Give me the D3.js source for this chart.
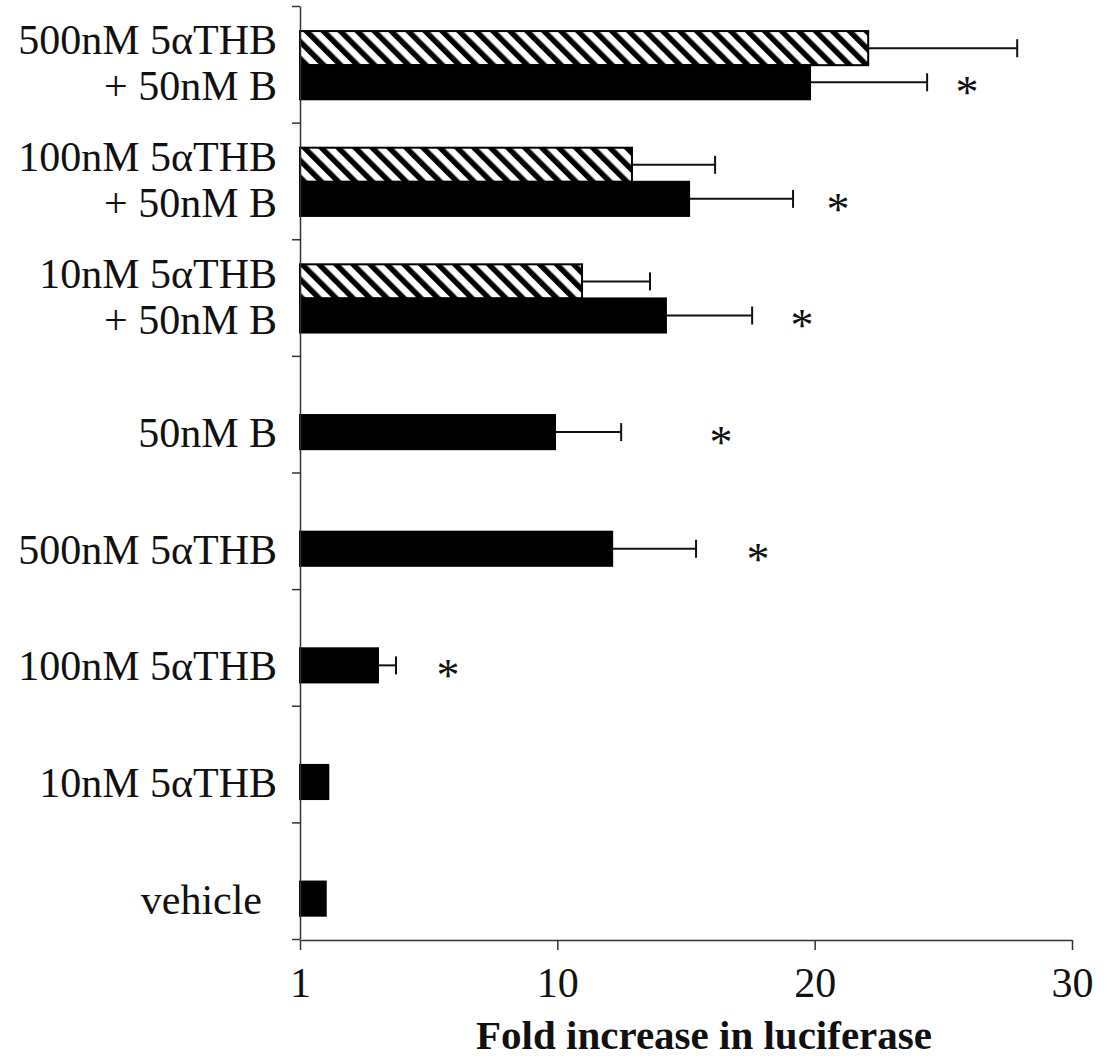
<!DOCTYPE html>
<html>
<head>
<meta charset="utf-8">
<script src="https://cdn.jsdelivr.net/npm/d3@7"></script>
<style>
  html, body { margin: 0; padding: 0; background: #fff; }
  svg { display: block; }
  text { font-family: "Liberation Serif", "Times New Roman", serif; fill: #111; }
</style>
</head>
<body>
<svg id="chart" width="1107" height="1062"></svg>
<script>
// Treatments, top to bottom
const categories = [
  "500nM 5αTHB + 50nM B",
  "100nM 5αTHB + 50nM B",
  "10nM 5αTHB + 50nM B",
  "50nM B",
  "500nM 5αTHB",
  "100nM 5αTHB",
  "10nM 5αTHB",
  "vehicle"
];
const categoryLines = [
  ["500nM 5αTHB", "+ 50nM B"],
  ["100nM 5αTHB", "+ 50nM B"],
  ["10nM 5αTHB", "+ 50nM B"],
  ["50nM B"],
  ["500nM 5αTHB"],
  ["100nM 5αTHB"],
  ["10nM 5αTHB"],
  ["vehicle"]
];

// Fold increase (mean) and error, hatched series
const hatchedValues = [22.08, 12.9, 10.96, null, null, null, null, null];
const hatchedErrors = [5.79, 3.23, 2.64, null, null, null, null, null];
// Fold increase (mean) and error, solid series
const solidValues = [19.82, 15.12, 14.22, 9.91, 12.13, 3.03, 1.1, 1.0];
const solidErrors = [4.55, 4.04, 3.35, 2.57, 3.26, 0.7, null, null];
// Significance marks, placed along the value axis
const sigMarkAt = [25.92, 20.91, 19.51, 16.36, 17.8, 5.75, null, null];

// Value axis ticks
const xTickValues = [0, 10, 20, 30];
const xTickLabels = ["1", "10", "20", "30"];
const xTitle = "Fold increase in luciferase";

const series = ["hatched", "solid"];

const svg = d3.select("#chart");

const x = d3.scaleLinear().domain([0, 30]).range([300, 1072]);
const y = d3.scaleBand().domain(categories).range([6, 939]);
const bw = y.bandwidth();
const ySub = d3.scaleBand().domain(series).range([bw * 0.215, bw * 0.8]);

// Diagonal hatch fill
const defs = svg.append("defs");
const pat = defs.append("pattern")
  .attr("id", "diagHatch")
  .attr("patternUnits", "userSpaceOnUse")
  .attr("width", 12)
  .attr("height", 12)
  .attr("patternTransform", "rotate(-45)");
pat.append("rect").attr("width", 12).attr("height", 12).attr("fill", "#fff");
pat.append("rect").attr("width", 5.5).attr("height", 12).attr("fill", "#000");

// Rows of bar data
const rows = categories.map((c, i) => ({
  cat: c,
  lines: categoryLines[i],
  hatched: hatchedValues[i],
  hatchedErr: hatchedErrors[i],
  solid: solidValues[i],
  solidErr: solidErrors[i],
  sig: sigMarkAt[i]
}));

const barData = [];
rows.forEach(r => {
  if (r.hatched != null) barData.push({ cat: r.cat, s: "hatched", v: r.hatched, e: r.hatchedErr });
  if (r.solid != null) barData.push({ cat: r.cat, s: "solid", v: r.solid, e: r.solidErr });
});

const g = svg.append("g");

// Error bars
const errG = g.append("g").attr("stroke", "#111").attr("stroke-width", 2);
barData.filter(d => d.e != null).forEach(d => {
  const cy = y(d.cat) + ySub(d.s) + ySub.bandwidth() / 2;
  errG.append("line")
    .attr("x1", x(d.v)).attr("x2", x(d.v + d.e))
    .attr("y1", cy).attr("y2", cy);
  errG.append("line")
    .attr("x1", x(d.v + d.e)).attr("x2", x(d.v + d.e))
    .attr("y1", cy - 9).attr("y2", cy + 9);
});

// Bars
g.selectAll("rect.bar")
  .data(barData)
  .join("rect")
  .attr("class", "bar")
  .attr("x", x(0))
  .attr("y", d => y(d.cat) + ySub(d.s))
  .attr("width", d => x(d.v) - x(0))
  .attr("height", ySub.bandwidth())
  .attr("fill", d => d.s === "hatched" ? "url(#diagHatch)" : "#000")
  .attr("stroke", "#000")
  .attr("stroke-width", 2);

// Significance asterisks
g.selectAll("text.sig")
  .data(rows.filter(r => r.sig != null))
  .join("text")
  .attr("class", "sig")
  .attr("x", d => x(d.sig))
  .attr("y", d => y(d.cat) + ySub("solid") + ySub.bandwidth() / 2 + 26)
  .attr("text-anchor", "middle")
  .attr("font-size", 46)
  .text("*");

// Category axis: line with ticks at band boundaries
const yEdge = d3.scaleLinear().domain([0, categories.length]).range([6, 939]);
const yAxis = d3.axisLeft(yEdge)
  .tickValues(d3.range(categories.length + 1))
  .tickFormat("")
  .tickSize(8)
  .tickSizeOuter(0);
const yAxisG = svg.append("g").attr("transform", `translate(${x(0)},0)`).call(yAxis);
yAxisG.selectAll("path, line").attr("stroke", "#333").attr("stroke-width", 1.5);

// Category labels
const labelG = svg.append("g").attr("font-size", 42).attr("text-anchor", "end");
rows.forEach(r => {
  const center = y(r.cat) + bw / 2;
  const solidMid = y(r.cat) + ySub("solid") + ySub.bandwidth() / 2;
  if (r.lines.length === 2) {
    labelG.append("text").attr("x", 277).attr("y", center - 10).text(r.lines[0]);
    labelG.append("text").attr("x", 277).attr("y", center + 36).text(r.lines[1]);
  } else {
    labelG.append("text").attr("x", r.cat === "vehicle" ? 262 : 277).attr("y", solidMid + 15).text(r.lines[0]);
  }
});

// Value axis
const xAxis = d3.axisBottom(x)
  .tickValues(xTickValues)
  .tickFormat((d, i) => xTickLabels[i])
  .tickSize(10)
  .tickSizeOuter(0)
  .tickPadding(17);
const xAxisG = svg.append("g").attr("transform", "translate(0,940)").call(xAxis);
xAxisG.selectAll("path, line").attr("stroke", "#333").attr("stroke-width", 1.5);
xAxisG.selectAll("text")
  .attr("font-size", 42)
  .attr("font-family", "'Liberation Serif', 'Times New Roman', serif")
  .attr("fill", "#111");

// Axis title
svg.append("text")
  .attr("x", 704)
  .attr("y", 1049)
  .attr("text-anchor", "middle")
  .attr("font-size", 41)
  .attr("font-weight", "bold")
  .text(xTitle);
</script>
</body>
</html>
